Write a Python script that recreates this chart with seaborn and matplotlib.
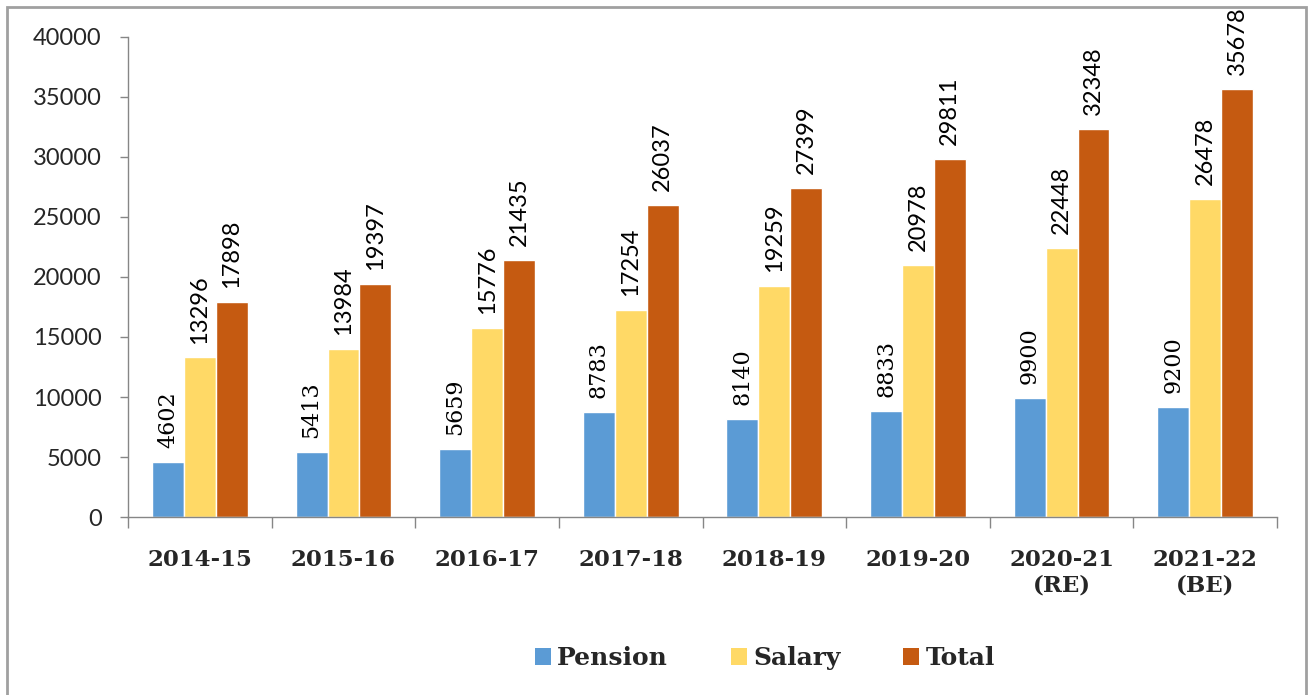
import matplotlib
matplotlib.use("Agg")
import matplotlib.pyplot as plt
from matplotlib.patches import Rectangle, Patch
import seaborn as sns
import pandas as pd
import numpy as np

years = ["2014-15", "2015-16", "2016-17", "2017-18", "2018-19", "2019-20", "2020-21\n(RE)", "2021-22\n(BE)"]
series = ["Pension", "Salary", "Total"]
pension = [4602, 5413, 5659, 8783, 8140, 8833, 9900, 9200]
salary = [13296, 13984, 15776, 17254, 19259, 20978, 22448, 26478]
total = [17898, 19397, 21435, 26037, 27399, 29811, 32348, 35678]
colors = ["#5B9BD5", "#FFD966", "#C55A11"]
yticks = [0, 5000, 10000, 15000, 20000, 25000, 30000, 35000, 40000]

df = pd.DataFrame({
    "Year": years * 3,
    "Series": [s for s in series for _ in years],
    "Value": pension + salary + total,
})

sns.set_theme(style="white")
plt.rcParams["font.family"] = ["Lato", "DejaVu Sans"]

fig = plt.figure(figsize=(13.12, 6.95), dpi=100)
ax = fig.add_axes([0.0976, 0.2561, 0.9733 - 0.0976, 0.9468 - 0.2561])

sns.barplot(data=df, x="Year", y="Value", hue="Series", order=years, hue_order=series,
            palette=colors, width=0.667, gap=0, ax=ax, legend=False, saturation=1)

ax.set_xlim(-0.5, len(years) - 0.5)
ax.set_ylim(0, 40000)
ax.set_yticks(yticks)
ax.set_yticklabels([str(v) for v in yticks], fontsize=17)
ax.set_xlabel("")
ax.set_ylabel("")

ax.set_xticks(range(len(years)))
ax.set_xticklabels(years, fontsize=16.5, fontweight="bold", family="DejaVu Serif", linespacing=1.2)
ax.set_xticks(np.arange(-0.5, len(years), 1), minor=True)
ax.tick_params(axis="x", which="major", length=0, pad=23)
ax.tick_params(axis="x", which="minor", length=8, width=1, color="#868686", direction="out", bottom=True)
ax.tick_params(axis="y", length=6, width=1, color="#868686", direction="out", left=True, pad=13)

for s in ["top", "right"]:
    ax.spines[s].set_visible(False)
for s in ["left", "bottom"]:
    ax.spines[s].set_color("#868686")
    ax.spines[s].set_linewidth(1)

for i, cont in enumerate(ax.containers):
    fam = "DejaVu Serif" if i == 0 else "Lato"
    fs = 16 if i == 0 else 17
    ax.bar_label(cont, labels=[str(int(v)) for v in cont.datavalues], rotation=90,
                 padding=10, fontsize=fs, family=fam, color="black")

handles = [Patch(facecolor=c, edgecolor="none") for c in colors]
leg = fig.legend(handles, series, loc="center", bbox_to_anchor=(0.583, 0.053), ncol=3,
                 frameon=False, handlelength=0.65, handleheight=0.65, handletextpad=0.25,
                 columnspacing=2.5, prop={"family": "DejaVu Serif", "weight": "bold", "size": 18})

fig.patches.append(Rectangle((0.0053, -0.02), 0.9954 - 0.0053, 0.99 + 0.02,
                             transform=fig.transFigure, fill=False, edgecolor="#a0a0a0",
                             linewidth=2, zorder=-1))

fig.savefig("out.png", dpi=100)
